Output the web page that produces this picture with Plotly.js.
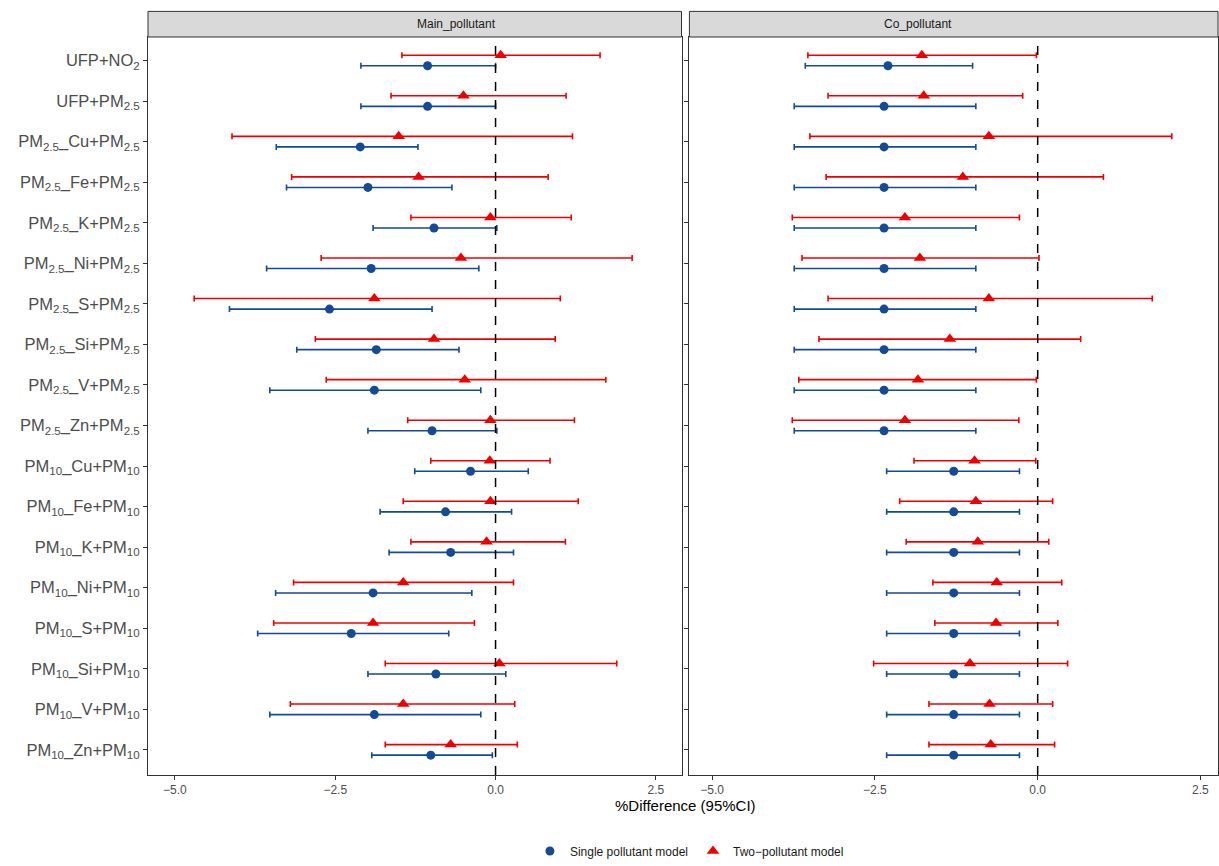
<!DOCTYPE html>
<html>
<head>
<meta charset="utf-8">
<script src="https://cdn.plot.ly/plotly-3.0.0.min.js"></script>
<style>body{margin:0;background:#fff}#chart{width:1219px;height:866px}</style>
</head>
<body>
<div id="chart"></div>
<script>
// row labels, top to bottom
var labels = ['UFP+NO<sub>2</sub>','UFP+PM<sub>2.5</sub>',
  'PM<sub>2.5</sub>_Cu+PM<sub>2.5</sub>','PM<sub>2.5</sub>_Fe+PM<sub>2.5</sub>','PM<sub>2.5</sub>_K+PM<sub>2.5</sub>',
  'PM<sub>2.5</sub>_Ni+PM<sub>2.5</sub>','PM<sub>2.5</sub>_S+PM<sub>2.5</sub>','PM<sub>2.5</sub>_Si+PM<sub>2.5</sub>',
  'PM<sub>2.5</sub>_V+PM<sub>2.5</sub>','PM<sub>2.5</sub>_Zn+PM<sub>2.5</sub>',
  'PM<sub>10</sub>_Cu+PM<sub>10</sub>','PM<sub>10</sub>_Fe+PM<sub>10</sub>','PM<sub>10</sub>_K+PM<sub>10</sub>',
  'PM<sub>10</sub>_Ni+PM<sub>10</sub>','PM<sub>10</sub>_S+PM<sub>10</sub>','PM<sub>10</sub>_Si+PM<sub>10</sub>',
  'PM<sub>10</sub>_V+PM<sub>10</sub>','PM<sub>10</sub>_Zn+PM<sub>10</sub>'];

// Main pollutant panel
var mainSingle    = [-1.06,-1.06,-2.11,-1.99,-0.96,-1.94,-2.59,-1.86,-1.89,-0.99,-0.39,-0.78,-0.70,-1.91,-2.25,-0.93,-1.89,-1.01];
var mainSingleLo  = [-2.10,-2.10,-3.42,-3.26,-1.91,-3.57,-4.15,-3.10,-3.52,-1.99,-1.26,-1.80,-1.66,-3.43,-3.71,-1.99,-3.52,-1.93];
var mainSingleHi  = [0.00,0.00,-1.21,-0.68,0.02,-0.26,-0.99,-0.57,-0.23,0.02,0.51,0.25,0.28,-0.37,-0.73,0.16,-0.23,-0.05];
var mainTwo       = [0.08,-0.50,-1.51,-1.20,-0.08,-0.54,-1.89,-0.96,-0.48,-0.08,-0.09,-0.08,-0.14,-1.44,-1.91,0.06,-1.44,-0.70];
var mainTwoLo     = [-1.46,-1.63,-4.11,-3.18,-1.32,-2.72,-4.70,-2.81,-2.64,-1.37,-1.01,-1.44,-1.32,-3.15,-3.46,-1.72,-3.20,-1.72];
var mainTwoHi     = [1.63,1.10,1.20,0.82,1.18,2.13,1.01,0.93,1.72,1.23,0.85,1.29,1.09,0.28,-0.33,1.89,0.30,0.34];

// Co-pollutant panel
var coSingle      = [-2.30,-2.36,-2.36,-2.36,-2.36,-2.36,-2.36,-2.36,-2.36,-2.36,-1.29,-1.29,-1.29,-1.29,-1.29,-1.29,-1.29,-1.29];
var coSingleLo    = [-3.57,-3.74,-3.74,-3.74,-3.74,-3.74,-3.74,-3.74,-3.74,-3.74,-2.32,-2.32,-2.32,-2.32,-2.32,-2.32,-2.32,-2.32];
var coSingleHi    = [-1.00,-0.95,-0.95,-0.95,-0.95,-0.95,-0.95,-0.95,-0.95,-0.95,-0.28,-0.28,-0.28,-0.28,-0.28,-0.28,-0.28,-0.28];
var coTwo         = [-1.78,-1.75,-0.75,-1.15,-2.04,-1.81,-0.75,-1.35,-1.84,-2.04,-0.97,-0.95,-0.92,-0.63,-0.64,-1.04,-0.74,-0.72];
var coTwoLo       = [-3.53,-3.22,-3.50,-3.25,-3.77,-3.62,-3.22,-3.36,-3.67,-3.77,-1.90,-2.12,-2.02,-1.61,-1.58,-2.52,-1.67,-1.67];
var coTwoHi       = [-0.02,-0.23,2.06,1.01,-0.28,0.02,1.76,0.66,-0.02,-0.29,-0.03,0.23,0.17,0.37,0.31,0.46,0.23,0.26];

var blue = '#154a94', red = '#ee0000';
var rows = labels.map(function(d,i){return i;});

function trace(x, lo, hi, off, color, symbol, name, xa, ya, show){
    return {
        x: x,
        y: rows.map(function(r){return r + off;}),
        xaxis: xa, yaxis: ya,
        type: 'scatter', mode: 'markers', name: name, showlegend: show,
        marker: {color: color, symbol: symbol, size: symbol == 'circle' ? 9 : 11},
        error_x: {type: 'data', symmetric: false,
            array: hi.map(function(h,i){return h - x[i];}),
            arrayminus: lo.map(function(l,i){return x[i] - l;}),
            color: color, thickness: 1.6, width: 3}
    };
}

var data = [
    trace(mainSingle, mainSingleLo, mainSingleHi, 0.13, blue, 'circle', 'Single pollutant model', 'x', 'y', true),
    trace(mainTwo, mainTwoLo, mainTwoHi, -0.13, red, 'triangle-up', 'Two\u2212pollutant model', 'x', 'y', true),
    trace(coSingle, coSingleLo, coSingleHi, 0.13, blue, 'circle', 'Single pollutant model', 'x2', 'y2', false),
    trace(coTwo, coTwoLo, coTwoHi, -0.13, red, 'triangle-up', 'Two\u2212pollutant model', 'x2', 'y2', false)
];

var xax = {range: [-5.42, 2.9], tickvals: [-5, -2.5, 0, 2.5], ticktext: ['\u22125.0','\u22122.5','0.0','2.5'],
    showgrid: false, zeroline: false, showline: true, mirror: true, linecolor: '#333', linewidth: 1,
    ticks: 'outside', ticklen: 4, tickcolor: '#333', tickfont: {size: 12, color: '#4d4d4d'}};
var yax = {range: [17.62, -0.58], tickvals: rows, ticktext: labels, showgrid: false, zeroline: false,
    showline: true, mirror: true, linecolor: '#333', linewidth: 1,
    ticks: 'outside', ticklen: 4, tickcolor: '#333', tickfont: {size: 16.5, color: '#4d4d4d'}};

var layout = {
    width: 1219, height: 866,
    margin: {l: 148, r: 1, t: 37, b: 80},
    paper_bgcolor: '#fff', plot_bgcolor: '#fff',
    font: {family: 'Liberation Sans, Arial, sans-serif'},
    xaxis: Object.assign({}, xax, {domain: [0, 0.4986], anchor: 'y'}),
    xaxis2: Object.assign({}, xax, {domain: [0.506, 1], range: [-5.35, 2.77], anchor: 'y2'}),
    yaxis: Object.assign({}, yax, {anchor: 'x'}),
    yaxis2: Object.assign({}, yax, {anchor: 'x2', showticklabels: false}),
    showlegend: true,
    legend: {orientation: 'h', x: 0.506, xanchor: 'center', y: -0.103, yanchor: 'middle',
        font: {size: 12, color: '#1a1a1a'}},
    shapes: [
        {type: 'line', xref: 'x', yref: 'paper', x0: 0, x1: 0, y0: 0, y1: 1, line: {color: '#000', width: 1.5, dash: 'dash'}},
        {type: 'line', xref: 'x2', yref: 'paper', x0: 0, x1: 0, y0: 0, y1: 1, line: {color: '#000', width: 1.5, dash: 'dash'}},
        {type: 'rect', xref: 'paper', yref: 'paper', x0: 0, x1: 0.4986, y0: 1, y1: 1.0347, fillcolor: '#d9d9d9', line: {color: '#333', width: 1}},
        {type: 'rect', xref: 'paper', yref: 'paper', x0: 0.506, x1: 1, y0: 1, y1: 1.0347, fillcolor: '#d9d9d9', line: {color: '#333', width: 1}}
    ],
    annotations: [
        {text: 'Main_pollutant', xref: 'paper', yref: 'paper', x: 0.2493, y: 1.0173, yanchor: 'middle', showarrow: false, font: {size: 12, color: '#1a1a1a'}},
        {text: 'Co_pollutant', xref: 'paper', yref: 'paper', x: 0.753, y: 1.0173, yanchor: 'middle', showarrow: false, font: {size: 12, color: '#1a1a1a'}},
        {text: '%Difference (95%CI)', xref: 'paper', yref: 'paper', x: 0.502, y: -0.041, yanchor: 'middle', showarrow: false, font: {size: 15, color: '#000'}}
    ]
};

Plotly.newPlot('chart', data, layout, {displayModeBar: false});
</script>
</body>
</html>
